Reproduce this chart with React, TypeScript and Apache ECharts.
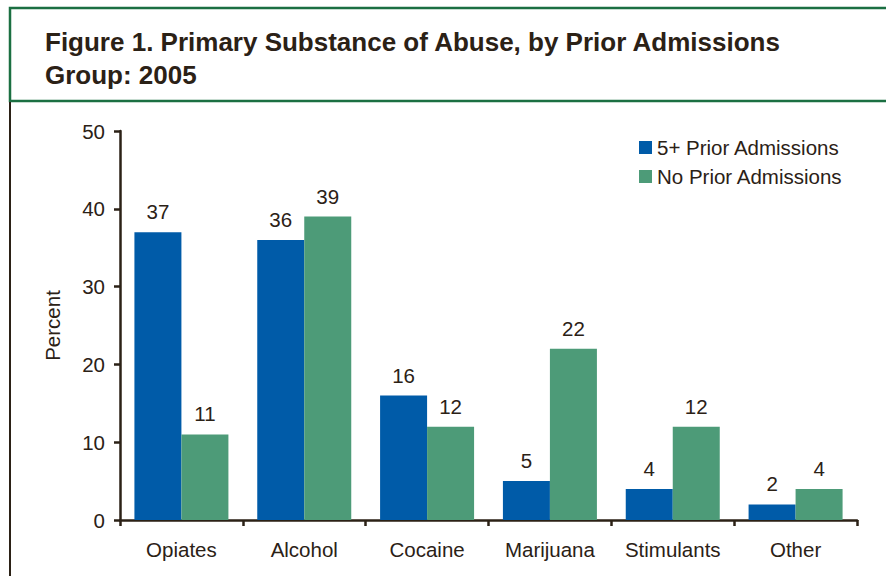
import React, { useEffect, useRef } from "react";
import * as echarts from "echarts";

const categories = ["Opiates", "Alcohol", "Cocaine", "Marijuana", "Stimulants", "Other"];
const fivePlus = [37, 36, 16, 5, 4, 2];
const noPrior = [11, 39, 12, 22, 12, 4];
const seriesNames = ["5+ Prior Admissions", "No Prior Admissions"];
const titleText = "Figure 1. Primary Substance of Abuse, by Prior Admissions\nGroup: 2005";
const yAxisName = "Percent";

const TEXT = "#2b2116";
const FONT = "'Liberation Sans', Arial, Helvetica, sans-serif";
const FS = 20.5;

export default function App() {
  const ref = useRef<HTMLDivElement>(null);
  useEffect(() => {
    if (!ref.current) return;
    const chart = echarts.init(ref.current, undefined, { renderer: "svg" });
    const labelStyle = {
      show: true,
      position: "top" as const,
      distance: 10,
      color: TEXT,
      fontSize: FS,
      fontFamily: FONT,
    };
    chart.setOption({
      animation: false,
      backgroundColor: "#ffffff",
      textStyle: { fontFamily: FONT, color: TEXT },
      title: {
        text: titleText,
        left: 40,
        top: 20,
        textStyle: {
          fontSize: 26,
          fontWeight: "bold",
          color: TEXT,
          fontFamily: FONT,
          lineHeight: 33,
        },
      },
      graphic: [
        {
          type: "rect",
          shape: { x: 10, y: 8, width: 900, height: 93 },
          style: { fill: "none", stroke: "#1b6f42", lineWidth: 2.5 },
          silent: true,
        },
        {
          type: "line",
          shape: { x1: 10, y1: 102, x2: 10, y2: 580 },
          style: { stroke: TEXT, lineWidth: 2 },
          silent: true,
        },
      ],
      legend: {
        orient: "vertical",
        left: 634,
        top: 132,
        itemWidth: 13,
        itemHeight: 13,
        itemGap: 8,
        icon: "rect",
        textStyle: { fontSize: FS, color: TEXT, fontFamily: FONT },
        data: seriesNames,
      },
      grid: { left: 120, top: 131, right: 29, bottom: 56, containLabel: false },
      xAxis: {
        type: "category",
        data: categories,
        axisLine: { lineStyle: { color: TEXT, width: 2.5 } },
        axisTick: { show: true, interval: 0, length: 6, lineStyle: { color: TEXT, width: 2.5 } },
        axisLabel: { interval: 0, color: TEXT, fontSize: FS, margin: 19, fontFamily: FONT },
      },
      yAxis: {
        type: "value",
        min: 0,
        max: 50,
        interval: 10,
        name: yAxisName,
        nameLocation: "middle",
        nameGap: 57,
        nameTextStyle: { color: TEXT, fontSize: FS, fontFamily: FONT },
        axisLine: { show: true, lineStyle: { color: TEXT, width: 2.5 } },
        axisTick: { show: true, length: 6, lineStyle: { color: TEXT, width: 2.5 } },
        splitLine: { show: false },
        axisLabel: { color: TEXT, fontSize: FS, margin: 15, fontFamily: FONT },
      },
      series: [
        {
          name: seriesNames[0],
          type: "bar",
          data: fivePlus,
          barWidth: 47,
          barGap: "0%",
          itemStyle: { color: "#005ba8" },
          label: labelStyle,
        },
        {
          name: seriesNames[1],
          type: "bar",
          data: noPrior,
          barWidth: 47,
          barGap: "0%",
          itemStyle: { color: "#4d9b78" },
          label: labelStyle,
        },
      ],
    });
    return () => chart.dispose();
  }, []);
  return (
    <div
      ref={ref}
      style={{ position: "fixed", left: 0, top: 0, width: 886, height: 576 }}
    />
  );
}
